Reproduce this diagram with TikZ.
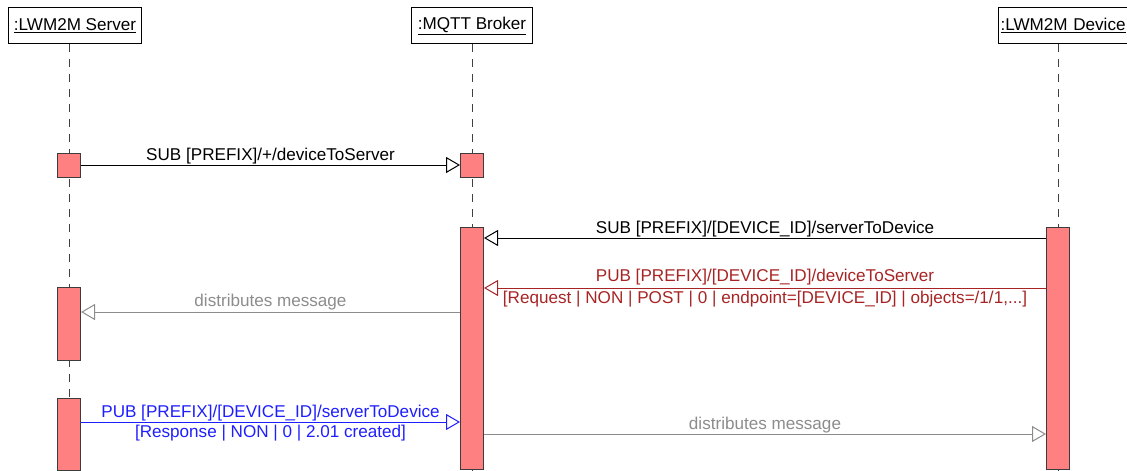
\documentclass[tikz,border=0pt]{standalone}
\usepackage{fontspec}
\setmainfont{Liberation Sans}
\usetikzlibrary{arrows.meta}
\definecolor{actfill}{RGB}{255,128,128}
\definecolor{actdraw}{RGB}{60,60,60}
\definecolor{msgred}{RGB}{168,36,36}
\definecolor{msgblue}{RGB}{30,30,255}
\definecolor{msggray}{RGB}{140,140,140}
\tikzset{
  txt/.style={font=\fontsize{17.1}{19}\selectfont},
  head/.style={txt, draw=black, line width=1pt, fill=white, minimum height=36pt, inner sep=0pt, anchor=north west},
  act/.style={draw=actdraw, fill=actfill, line width=1pt, minimum width=23pt, inner sep=0pt},
  life/.style={dashed, dash pattern=on 8pt off 7pt, line width=1pt, black!75},
  msg/.style={line width=1pt, -{Triangle[open, length=14pt, width=16pt, fill=white]}},
  lab/.style={txt, inner sep=0pt, anchor=base},
}
\begin{document}
\begin{tikzpicture}[x=1pt, y=-1pt]
\useasboundingbox (0,0) rectangle (1127,471);
\clip (0,0) rectangle (1127,471);
% headers
\node[head, minimum width=133pt] (hs) at (8,7) {\underline{:LWM2M Server}};
\node[head, minimum width=121pt] (hb) at (411,7) {\underline{:MQTT Broker}};
\node[head, minimum width=140pt, anchor=north west, align=left, text width=136pt] (hd) at (998,7) {\hspace*{0pt}\underline{:LWM2M Device}};
% lifeline ends
\coordinate (es) at (69,471);
\coordinate (eb) at (472,471);
\coordinate (ed) at (1058,471);
\draw[life] (hs.south -| es) -- (es);
\draw[life] (hb.south -| eb) -- (eb);
\draw[life] (hd.south -| ed) -- (ed);
% activations
\node[act, minimum height=24pt] (s1) at (69,165) {};
\node[act, minimum height=24pt] (b1) at (472,165) {};
\node[act, minimum height=242pt] (bk) at (472,348) {};
\node[act, minimum height=242pt] (dv) at (1058,348) {};
\node[act, minimum height=73pt] (s2) at (69,323.5) {};
\node[act, minimum height=72pt] (s3) at (69,434) {};
% messages
\draw[msg] (s1.east) -- (b1.west) node[lab, midway, yshift=5pt] {SUB [PREFIX]/+/deviceToServer};
\draw[msg] (dv.west |- 0,238) -- (bk.east |- 0,238) node[lab, midway, yshift=5pt] {SUB [PREFIX]/[DEVICE\_ID]/serverToDevice};
\draw[msg, msgred] (dv.west |- 0,288) -- (bk.east |- 0,288)
  node[lab, midway, yshift=6.5pt, text=msgred] {PUB [PREFIX]/[DEVICE\_ID]/deviceToServer}
  node[lab, midway, yshift=-15pt, text=msgred] {[Request | NON | POST | 0 | endpoint=[DEVICE\_ID] | objects=/1/1,...]};
\draw[msg, msggray] (bk.west |- 0,312) -- (s2.east |- 0,312) node[lab, midway, yshift=6pt, text=msggray] {distributes message};
\draw[msg, msgblue] (s3.east |- 0,422) -- (bk.west |- 0,422)
  node[lab, midway, yshift=4.5pt, text=msgblue] {PUB [PREFIX]/[DEVICE\_ID]/serverToDevice}
  node[lab, midway, yshift=-15pt, text=msgblue] {[Response | NON | 0 | 2.01 created]};
\draw[msg, msggray] (bk.east |- 0,434) -- (dv.west |- 0,434) node[lab, midway, yshift=5pt, text=msggray] {distributes message};
\end{tikzpicture}
\end{document}
